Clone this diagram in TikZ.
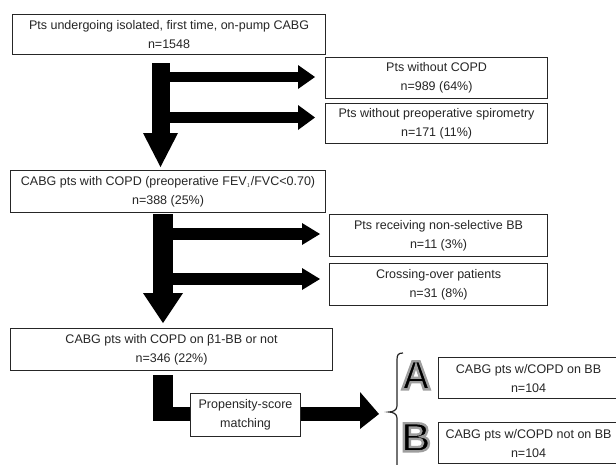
\documentclass[tikz,border=0pt]{standalone}
\usepackage{fontspec}
\setmainfont{Liberation Sans}
\usetikzlibrary{calc}
\newcommand{\outlined}[1]{\special{pdf:literal direct 2 Tr 2.4 w 0.62 G}#1\special{pdf:literal direct 0 Tr 0.4 w 0 G}}
\tikzset{
  box/.style={draw=black!85, line width=1.1pt, fill=white, align=center, inner sep=0pt,
    anchor=north west, font=\fontsize{12.5}{19}\selectfont, text=black!85},
  blk/.style={fill=black},
  letter/.style={font=\fontsize{41}{41}\selectfont\bfseries, inner sep=0pt, anchor=north west}
}
\begin{document}
\begin{tikzpicture}[x=1pt,y=-1pt]
\useasboundingbox (0,0) rectangle (616,464);
\clip (0,0) rectangle (616,464);
% boxes
\node[box, minimum width=313pt, minimum height=40pt] (b1) at (12,14) {Pts undergoing isolated, first time, on-pump CABG\\n=1548};
\node[box, minimum width=222pt, minimum height=41pt] (b2) at (325,57) {Pts without COPD\\n=989 (64\%)};
\node[box, minimum width=222pt, minimum height=40pt] (b3) at (325,103) {Pts without preoperative spirometry\\n=171 (11\%)};
\node[box, minimum width=315pt, minimum height=42pt] (b4) at (10,170) {CABG pts with COPD (preoperative FEV$_{\scriptscriptstyle 1}$/FVC<0.70)\\n=388 (25\%)};
\node[box, minimum width=218pt, minimum height=42pt] (b5) at (329,214) {Pts receiving non-selective BB\\n=11 (3\%)};
\node[box, minimum width=218pt, minimum height=42pt] (b6) at (329,263) {Crossing-over patients\\n=31 (8\%)};
\node[box, minimum width=322pt, minimum height=42pt] (b7) at (10,328) {CABG pts with COPD on β1-BB or not\\n=346 (22\%)};
\node[box, minimum width=110pt, minimum height=43pt] (b8) at (190,393) {Propensity-score\\matching};
\node[box, minimum width=180pt, minimum height=41pt] (bA) at (438,357) {CABG pts w/COPD on BB\\n=104};
\node[box, minimum width=180pt, minimum height=41pt] (bB) at (438,422) {CABG pts w/COPD not on BB\\n=104};
% letters
\node[letter] (lA) at (401,361) {\outlined{A}};
\node[letter] (lB) at (401,423) {\outlined{B}};
% section 1 arrows
\fill[blk] (152,63) rectangle (170,134);
\fill[blk] (143,133) -- (178,133) -- (160.5,167) -- cycle;
\fill[blk] (169,72) rectangle (298,82);
\fill[blk] (298,65) -- (315,77) -- (298,89) -- cycle;
\fill[blk] (169,112) rectangle (298,123);
\fill[blk] (298,105) -- (315,117.5) -- (298,130) -- cycle;
% section 2 arrows
\fill[blk] (153,214) rectangle (173,294);
\fill[blk] (143,293) -- (183,293) -- (163,323) -- cycle;
\fill[blk] (172,228) rectangle (302,240);
\fill[blk] (302,223) -- (320,234) -- (302,245) -- cycle;
\fill[blk] (172,273) rectangle (302,285);
\fill[blk] (302,268) -- (320,279) -- (302,290) -- cycle;
% section 3 L arrow
\fill[blk] (153,375) rectangle (173,421);
\fill[blk] (153,407) rectangle (b8.west |- 0,421);
\fill[blk] (b8.east |- 0,407) rectangle (361,421);
\fill[blk] (360,392) -- (379,414) -- (360,429) -- cycle;
% brace
\draw[line width=1.2pt, black!85] (403,353) .. controls (398,353) and (397,355) .. (397,360)
  -- (397,406) .. controls (397,410) and (393,412) .. (389,412)
  .. controls (393,412) and (397,414) .. (397,418) -- (397,470);
\end{tikzpicture}
\end{document}
